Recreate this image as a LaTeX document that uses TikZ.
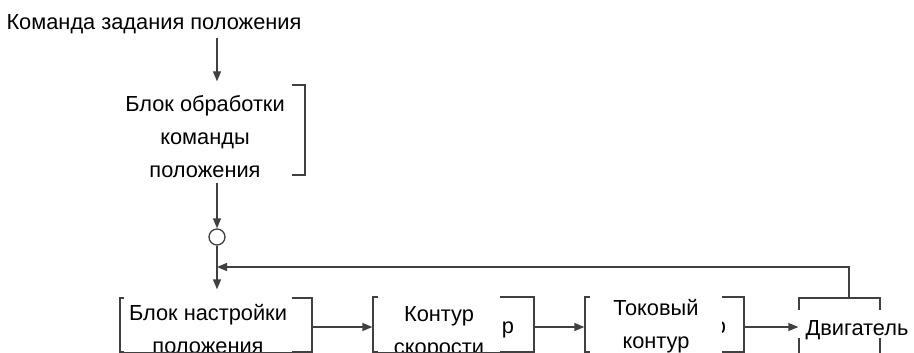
\documentclass[tikz,border=0pt]{standalone}
\usepackage{fontspec}
\setmainfont{Liberation Sans}
\usetikzlibrary{arrows.meta}
\definecolor{linegray}{HTML}{404040}
\begin{document}
\begin{tikzpicture}[
    x=1pt, y=-1pt,
    frame/.style={draw=linegray, line width=1.3pt, inner sep=0},
    lbl/.style={fill=white, inner sep=0, align=center, font=\fontsize{21.8}{33}\selectfont},
    arrow/.style={-{Triangle[length=10pt, width=8pt]}, draw=linegray, line width=1.3pt}
]
\useasboundingbox (0,0) rectangle (914,353);
\clip (0,0) rectangle (914,353);
\coordinate (row) at (0,327);
\coordinate (fb) at (849,267);
% Command
\node[font=\fontsize{21.8}{33}\selectfont, anchor=base] (cmd) at (154,30) {Команда задания положения};
% Frames
\node[frame, minimum width=165, minimum height=90] (proc) at (222.5,130) {};
\node[frame, minimum width=192, minimum height=54] (b1) at (216,325) {};
\node[frame, minimum width=161, minimum height=55] (b2) at (453.5,324.5) {};
\node[frame, minimum width=159, minimum height=55] (b3) at (664.5,324.5) {};
\node[frame, minimum width=81, minimum height=62] (motor) at (839.5,329) {};
% Hidden texts behind the labels
\node[font=\fontsize{21.8}{33}\selectfont, anchor=base, inner sep=0] (b2r) at (508,333) {р};
\node[font=\fontsize{21.8}{33}\selectfont, anchor=base, inner sep=0] (b3r) at (720,333) {р};
% Labels
\node[lbl, minimum width=174, text height=93, text depth=1] (procl) at (205,131) {Блок обработки\\команды\\положения};
\node[lbl, minimum width=168, text height=61, text depth=0] (b1l) at (208,322.5) {Блок настройки\\положения};
\node[lbl, minimum width=122, text height=62, text depth=0] (b2l) at (439,323) {Контур\\скорости};
\node[lbl, minimum width=132, text height=56, text depth=8] (b3l) at (656,324) {Токовый\\контур};
\node[lbl, minimum width=120, text height=25, text depth=3] (motorl) at (857,324) {Двигатель};
\draw[linegray, line width=1.3pt] (b1.south west) -- (b1.south east);
\draw[linegray, line width=1.3pt] (b2.south west) -- (b2.south east);
% Summing point
\node[frame, circle, minimum size=16, fill=white] (sum) at (217,237) {};
% Arrows
\draw[arrow] (cmd.south -| sum) -- ([yshift=3]proc.north -| sum);
\draw[arrow] ([yshift=-7]proc.south -| sum) -- (sum);
\draw[arrow] (sum) -- ([yshift=8]b1.north -| sum);
\draw[arrow] (motor.north -| fb) -- (fb) -- (fb -| sum);
\draw[arrow] (b1.east |- row) -- (b2.west |- row);
\draw[arrow] (b2.east |- row) -- (b3.west |- row);
\draw[arrow] (b3.east |- row) -- (motor.west |- row);
\end{tikzpicture}
\end{document}
